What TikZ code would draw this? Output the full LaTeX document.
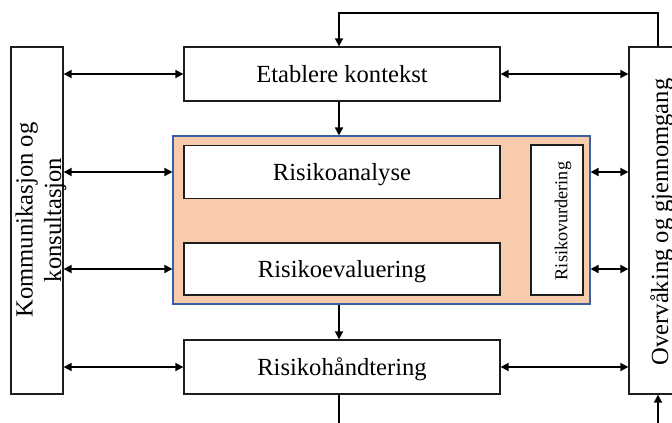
\documentclass[tikz,border=0pt]{standalone}
\usepackage{fontspec}
\setmainfont{Liberation Serif}
\usetikzlibrary{arrows.meta}
\definecolor{peach}{RGB}{248,203,173}
\definecolor{frameblue}{RGB}{56,96,166}
\definecolor{edge}{RGB}{30,30,30}
\begin{document}
\begin{tikzpicture}[x=1pt,y=-1pt,
  box/.style={draw=edge, line width=1.3pt, fill=white, inner sep=0pt},
  group/.style={draw=frameblue, line width=1.1pt, fill=peach, inner sep=0pt},
  lbl/.style={inner sep=0pt, text height=17pt, text depth=0pt,
              font=\fontsize{24.6}{28}\selectfont},
  smalllbl/.style={inner sep=0pt, text height=12.5pt, text depth=0pt,
                   font=\fontsize{18.2}{21}\selectfont},
  tip/.tip={Triangle[length=8pt,width=8pt]},
  line/.style={draw=black, line width=1.7pt},
  conn/.style={line, -tip},
  biconn/.style={line, tip-tip}]
\clip (0,0) rectangle (672,423);
\fill[white] (0,0) rectangle (672,423);

% side columns
\node[box, minimum width=52pt, minimum height=347pt] (comm) at (37,220.5) {};
\node[box, minimum width=70pt, minimum height=347pt] (overv) at (664,220.5) {};
\node[lbl, rotate=90] (commA) at (24,220) {Kommunikasjon og};
\node[lbl, rotate=90] (commB) at (52.5,220) {konsultasjon};
\node[lbl, rotate=90] (overvT) at (659.5,222) {Overvåking og gjennomgang};

% main process steps
\node[box, minimum width=316pt, minimum height=54pt] (etab) at (342,74) {};
\node[lbl] (etabT) at (etab) {Etablere kontekst};

\node[group, minimum width=417pt, minimum height=168pt] (assess) at (381.5,220) {};
\node[box, minimum width=316pt, minimum height=53pt] (analyse) at (342,172) {};
\node[lbl] (analyseT) at (analyse) {Risikoanalyse};
\node[box, minimum width=316pt, minimum height=52pt] (evaluer) at (342,269) {};
\node[lbl] (evaluerT) at (evaluer) {Risikoevaluering};
\node[box, minimum width=52pt, minimum height=150pt] (vurd) at (557,220) {};
\node[smalllbl, rotate=90] (vurdT) at (561,221) {Risikovurdering};

\node[box, minimum width=316pt, minimum height=54pt] (handt) at (342,367) {};
\node[lbl] (handtT) at (handt) {Risikohåndtering};

% guide coordinates for the vertical runs
\coordinate (spine) at (339,0);
\coordinate (rspine) at (658,0);
\coordinate (topy) at (0,13);
\coordinate (boty) at (0,430);

% exchange with communication column
\draw[biconn] (comm.east |- etab) -- (etab.west);
\draw[biconn] (comm.east |- analyse) -- (assess.west |- analyse);
\draw[biconn] (comm.east |- evaluer) -- (assess.west |- evaluer);
\draw[biconn] (comm.east |- handt) -- (handt.west);

% exchange with monitoring column
\draw[biconn] (etab.east) -- (overv.west |- etab);
\draw[biconn] (assess.east |- analyse) -- (overv.west |- analyse);
\draw[biconn] (assess.east |- evaluer) -- (overv.west |- evaluer);
\draw[biconn] (handt.east) -- (overv.west |- handt);

% main flow
\draw[conn] (spine |- etab.south) -- (spine |- assess.north);
\draw[conn] (spine |- assess.south) -- (spine |- handt.north);
\draw[line] (spine |- handt.south) -- (spine |- boty);

% feedback loop
\draw[conn] (rspine |- overv.north) -- (rspine |- topy) -- (spine |- topy) -- (spine |- etab.north);
\draw[conn] (rspine |- boty) -- (rspine |- overv.south);
\end{tikzpicture}
\end{document}
